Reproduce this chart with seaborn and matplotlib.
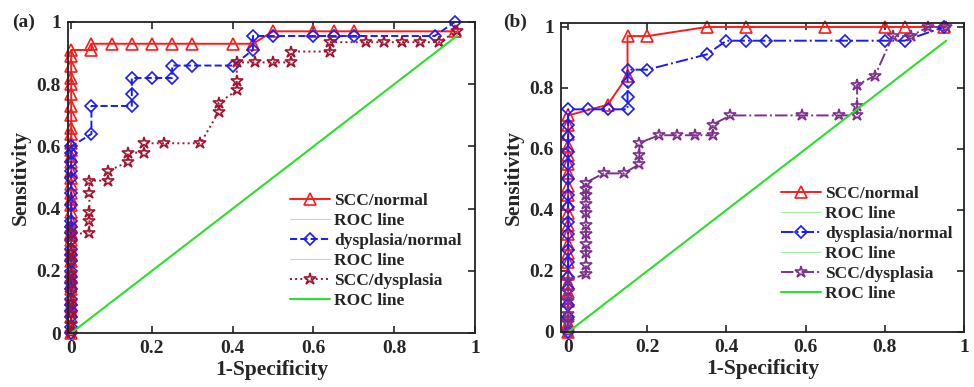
import numpy as np
import pandas as pd
import matplotlib
matplotlib.use("Agg")
import matplotlib.pyplot as plt
import matplotlib.ticker as mticker
import seaborn as sns

RED = "#ff1a1a"
BLUE = "#1a1aff"
MAROON = "#a2142f"
PURPLE = "#7e2f8e"
GREEN = "#2ee02e"
LIGHT_GREEN = "#9cef9c"

# ---- panel (a) ----
a_scc_norm_x = [0] * 38 + [0.05, 0.05, 0.1, 0.15, 0.2, 0.25, 0.3, 0.4, 0.45,
                           0.5, 0.6, 0.65, 0.7, 0.95]
a_scc_norm_y = [0, 0.02, 0.05, 0.07, 0.09, 0.11, 0.14, 0.16, 0.18, 0.2, 0.23,
                0.25, 0.27, 0.3, 0.32, 0.34, 0.36, 0.39, 0.41, 0.43, 0.45, 0.48,
                0.5, 0.52, 0.55, 0.57, 0.59, 0.61, 0.64, 0.66, 0.7, 0.73, 0.77,
                0.8, 0.82, 0.86, 0.89, 0.91,
                0.91, 0.93, 0.93, 0.93, 0.93, 0.93, 0.93, 0.93, 0.93,
                0.97, 0.97, 0.97, 0.97, 0.97]

a_dys_norm_x = [0] * 24 + [0.05, 0.05, 0.15, 0.15, 0.15, 0.2, 0.25, 0.25, 0.3,
                           0.4, 0.45, 0.45, 0.5, 0.6, 0.65, 0.7, 0.9, 0.95]
a_dys_norm_y = [0, 0.02, 0.05, 0.07, 0.09, 0.11, 0.14, 0.16, 0.18, 0.2, 0.23,
                0.25, 0.27, 0.3, 0.32, 0.34, 0.36, 0.41, 0.45, 0.5, 0.52, 0.55,
                0.58, 0.6,
                0.64, 0.73, 0.73, 0.77, 0.82, 0.82, 0.82, 0.86, 0.86,
                0.86, 0.91, 0.955, 0.955, 0.955, 0.955, 0.955, 0.955, 1.0]

a_scc_dys_x = [0] * 11 + [0.045, 0.045, 0.045, 0.045, 0.045, 0.09, 0.09, 0.14,
                          0.14, 0.18, 0.18, 0.23, 0.32, 0.365, 0.365, 0.41, 0.41,
                          0.41, 0.455, 0.5, 0.545, 0.545, 0.64, 0.64, 0.73,
                          0.775, 0.82, 0.865, 0.91, 0.955]
a_scc_dys_y = [0, 0.03, 0.06, 0.1, 0.13, 0.16, 0.19, 0.23, 0.26, 0.29, 0.32,
               0.32, 0.36, 0.39, 0.45, 0.49, 0.49, 0.52, 0.55, 0.58, 0.58, 0.61,
               0.61, 0.61, 0.71, 0.74, 0.78, 0.81, 0.87, 0.87, 0.87, 0.87,
               0.905, 0.905, 0.935, 0.935, 0.935, 0.935, 0.935, 0.935, 0.97]

# ---- panel (b) ----
b_scc_norm_x = [0] * 23 + [0.1, 0.15, 0.15, 0.2, 0.35, 0.45, 0.65, 0.8, 0.85, 0.95]
b_scc_norm_y = [0, 0.03, 0.06, 0.1, 0.13, 0.16, 0.19, 0.23, 0.26, 0.29, 0.32,
                0.35, 0.39, 0.42, 0.45, 0.48, 0.52, 0.55, 0.58, 0.61, 0.65,
                0.68, 0.71,
                0.745, 0.84, 0.97, 0.97, 1.0, 1.0, 1.0, 1.0, 1.0, 1.0]

b_dys_norm_x = [0] * 17 + [0.05, 0.1, 0.15, 0.15, 0.15, 0.15, 0.2, 0.35, 0.4,
                           0.45, 0.5, 0.7, 0.8, 0.85, 0.95]
b_dys_norm_y = [0, 0.05, 0.09, 0.14, 0.18, 0.23, 0.27, 0.32, 0.36, 0.41, 0.45,
                0.5, 0.55, 0.59, 0.64, 0.68, 0.73,
                0.73, 0.73, 0.73, 0.77, 0.82, 0.86, 0.86, 0.91, 0.955, 0.955,
                0.955, 0.955, 0.955, 0.955, 1.0]

b_scc_dys_x = [0] * 6 + [0.045] * 11 + [0.09, 0.14, 0.18, 0.18, 0.18, 0.23,
                                        0.275, 0.32, 0.365, 0.365, 0.41, 0.59,
                                        0.685, 0.73, 0.73, 0.73, 0.775, 0.82,
                                        0.865, 0.91, 0.955]
b_scc_dys_y = [0, 0.03, 0.06, 0.1, 0.13, 0.17,
               0.19, 0.22, 0.26, 0.29, 0.32, 0.35, 0.39, 0.42, 0.45, 0.47, 0.49,
               0.52, 0.52, 0.55, 0.58, 0.62, 0.645, 0.645, 0.645, 0.645, 0.68,
               0.71, 0.71, 0.71, 0.71, 0.74, 0.81, 0.84, 0.97, 0.97, 1.0, 1.0]

roc_x = [0, 0.955]
roc_y = [0, 0.955]

ticks = [0, 0.2, 0.4, 0.6, 0.8, 1]

sns.set_theme(style="ticks")
plt.rcParams["font.family"] = ["Liberation Serif", "DejaVu Serif"]
plt.rcParams["font.weight"] = "bold"
plt.rcParams["xtick.direction"] = "in"
plt.rcParams["ytick.direction"] = "in"

fig = plt.figure(figsize=(9.74, 3.87), dpi=100)
W, H = 974, 387
ax_a = fig.add_axes([68 / W, 1 - 333 / H, 407 / W, 311 / H])
ax_b = fig.add_axes([561 / W, 1 - 332 / H, 403 / W, 309 / H])


def curve(ax, x, y, color, ls, marker, ms):
    df = pd.DataFrame({"x": x, "y": y})
    sns.lineplot(data=df, x="x", y="y", ax=ax, sort=False, estimator=None,
                 color=color, linestyle=ls, linewidth=1.4, marker=marker,
                 markersize=ms, markerfacecolor="none", markeredgecolor=color,
                 markeredgewidth=1.2, clip_on=False)
    return ax.lines[-1]


def roc(ax, lw, color):
    df = pd.DataFrame({"x": roc_x, "y": roc_y})
    sns.lineplot(data=df, x="x", y="y", ax=ax, sort=False, estimator=None,
                 color=color, linewidth=lw)
    return ax.lines[-1]


panels = [
    (ax_a, "(a)", 12, a_scc_norm_x, a_scc_norm_y, a_dys_norm_x, a_dys_norm_y,
     a_scc_dys_x, a_scc_dys_y, "--", ":", MAROON, (-0.008, 1), (0, 1),
     (290, 193, 68, 407, 333, 311)),
    (ax_b, "(b)", 503, b_scc_norm_x, b_scc_norm_y, b_dys_norm_x, b_dys_norm_y,
     b_scc_dys_x, b_scc_dys_y, "-.", "-.", PURPLE, (-0.018, 1.0), (0, 1.013),
     (781, 186, 561, 403, 332, 309)),
]

for (ax, tag, tag_x, x1, y1, x2, y2, x3, y3, ls2, ls3, c3, xl, yl, lg) in panels:
    h = []
    h.append(curve(ax, x1, y1, RED, "-", "^", 8))
    h.append(roc(ax, 0.7, LIGHT_GREEN))
    h.append(curve(ax, x2, y2, BLUE, ls2, "D", 6.5))
    h.append(roc(ax, 0.7, LIGHT_GREEN))
    h.append(curve(ax, x3, y3, c3, ls3, "*", 9))
    h.append(roc(ax, 1.5, GREEN))
    labels = ["SCC/normal", "ROC line", "dysplasia/normal", "ROC line",
              "SCC/dysplasia", "ROC line"]
    px, py, x0, w, y0, hh = lg
    ax.legend(h, labels, loc="upper left",
              bbox_to_anchor=((px - x0) / w, (y0 - py) / hh),
              frameon=False, handlelength=2.3,
              handletextpad=0.25, labelspacing=0.22, borderpad=0,
              borderaxespad=0, numpoints=1, prop={"weight": "bold", "size": 12.5})

    ax.set_xlim(*xl)
    ax.set_ylim(*yl)
    ax.set_xticks(ticks)
    ax.set_yticks(ticks)
    fmt = mticker.FuncFormatter(lambda v, _: f"{v:g}")
    ax.xaxis.set_major_formatter(fmt)
    ax.yaxis.set_major_formatter(fmt)
    ax.tick_params(labelsize=14, length=5, width=1.2, top=True, right=True,
                   pad=5)
    for s in ax.spines.values():
        s.set_linewidth(1.3)
        s.set_color("#222222")
    ax.set_xlabel("1-Specificity", fontsize=15.5, fontweight="bold", labelpad=2)
    ax.set_ylabel("Sensitivity", fontsize=15.5, fontweight="bold", labelpad=4)
    fig.text(tag_x / W, 1 - 22 / H, tag, fontsize=14, fontweight="bold",
             va="center", ha="left")

plt.savefig("out.png", dpi=100)
plt.close()
